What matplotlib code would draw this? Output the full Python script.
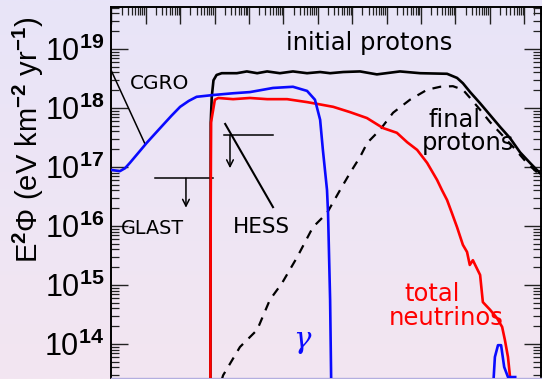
import numpy as np
import matplotlib
matplotlib.use("Agg")
import matplotlib.pyplot as plt
from matplotlib.ticker import LogLocator, FuncFormatter, NullFormatter
from matplotlib.colors import to_rgb

plt.rcParams['mathtext.fontset'] = 'custom'
plt.rcParams['mathtext.rm'] = 'Liberation Sans'
plt.rcParams['mathtext.bf'] = 'Liberation Sans:bold'
plt.rcParams['mathtext.it'] = 'Liberation Sans:italic'

# ---- data (log10 of energy in GeV, log10 of E^2 Phi) ----
gamma_logE = [-1.0, -0.75, -0.60, -0.46, -0.20, 0.03, 0.42, 0.75, 1.00, 1.25, 1.48, 1.96, 2.54, 3.03,
              3.70, 4.28, 4.69, 4.92, 5.07, 5.15, 5.27, 5.30, 5.36, 5.39, 5.40]
gamma_logF = [16.95, 16.93, 16.98, 17.07, 17.25, 17.41, 17.66, 17.87, 18.02, 18.12, 18.19, 18.22, 18.25, 18.27,
              18.34, 18.36, 18.29, 18.14, 17.80, 17.29, 16.61, 16.22, 14.75, 13.42, 13.0]
gamma_hi_logE = [10.07, 10.15, 10.24, 10.33, 10.42, 10.53, 10.74]
gamma_hi_logF = [13.0, 13.78, 13.98, 13.98, 13.61, 13.44, 13.44]

init_p_logE = [1.88, 1.89, 1.92, 1.97, 2.06, 2.21, 2.36, 2.65, 2.94, 3.24, 3.53, 3.90,
               4.28, 4.69, 5.07, 5.36, 5.74, 6.23, 6.72, 7.39, 7.98, 8.76, 9.05, 9.22,
               9.43, 9.72, 10.01, 10.30, 10.59, 10.88, 11.17, 11.52]
init_p_logF = [13.0, 17.75, 18.19, 18.47, 18.56, 18.59, 18.59, 18.59, 18.62, 18.59, 18.62, 18.59,
               18.62, 18.59, 18.61, 18.59, 18.61, 18.62, 18.57, 18.62, 18.59, 18.58, 18.51, 18.42,
               18.27, 18.08, 17.88, 17.68, 17.49, 17.25, 17.07, 16.86]

final_p_logE = [2.16, 2.25, 2.74, 3.24, 3.61, 3.96, 4.40, 4.86, 5.27, 5.65, 5.94, 6.23,
                6.44, 6.81, 7.19, 7.68, 8.18, 8.56, 8.93, 9.22, 9.43, 9.72, 10.01, 10.30,
                10.68, 11.08, 11.52]
final_p_logF = [13.3, 13.47, 13.95, 14.24, 14.75, 15.03, 15.47, 15.98, 16.22, 16.61, 16.90, 17.17,
                17.41, 17.63, 17.92, 18.14, 18.31, 18.36, 18.37, 18.31, 18.17, 17.97, 17.76, 17.58,
                17.34, 17.07, 16.83]

nu_logE = [1.88, 1.89, 1.90, 2.01, 2.11, 2.54, 3.03, 3.53, 4.11, 4.69, 4.98, 5.45, 5.94,
           6.43, 6.90, 7.30, 7.60, 7.89, 8.18, 8.47, 8.61, 8.76, 8.90, 9.05, 9.22, 9.34,
           9.42, 9.51, 9.72, 9.80, 10.01, 10.21, 10.36, 10.44, 10.53, 10.59, 10.62]
nu_logF = [13.0, 16.44, 17.76, 18.14, 18.17, 18.15, 18.17, 18.15, 18.15, 18.10, 18.07, 18.02, 17.93,
           17.83, 17.66, 17.58, 17.42, 17.29, 17.07, 16.78, 16.61, 16.44, 16.22, 15.98, 15.68, 15.56,
           15.34, 15.42, 15.17, 14.71, 14.58, 14.44, 14.29, 14.07, 13.78, 13.44, 13.0]

# instrument sensitivity limits
cgro_line_logE = [-0.99, -0.02]
cgro_line_logF = [18.62, 17.39]
glast_logE = [0.27, 1.96]
glast_logF = 16.81
glast_arrow_logE = 1.17
glast_arrow_logF = [16.81, 16.31]
hess_logE = [2.28, 3.69]
hess_logF = 17.54
hess_arrow_logE = 2.45
hess_arrow_logF = [17.54, 16.98]
hess_diag_logE = [2.31, 3.70]
hess_diag_logF = [17.73, 16.32]

ytick_exps = [14, 15, 16, 17, 18, 19]

def p(v):
    return 10.0 ** np.asarray(v, dtype=float)

W, H = 542, 379
fig = plt.figure(figsize=(W / 100, H / 100), dpi=100)

# gradient background
bg = fig.add_axes([0, 0, 1, 1], zorder=-5)
top = np.array(to_rgb('#E8E4F8'))
bot = np.array(to_rgb('#F3E6F1'))
t = np.linspace(0, 1, 256)[:, None]
grad = (top[None, :] * (1 - t) + bot[None, :] * t)[:, None, :]
bg.imshow(grad, aspect='auto', extent=[0, 1, 0, 1])
bg.axis('off')

ax = fig.add_axes([111.3 / W, 1 - 378 / H, (541 - 111.3) / W, (378 - 7) / H])
ax.patch.set_alpha(0)
ax.set_xscale('log')
ax.set_yscale('log')
ax.set_xlim(p(-1.0), p(11.49))
ax.set_ylim(p(13.424), p(19.712))

lw = 1.9
ax.plot(p(init_p_logE), p(init_p_logF), color='black', lw=lw, zorder=3)
ax.plot(p(final_p_logE), p(final_p_logF), color='black', lw=1.6, ls=(0, (4, 3.5)), zorder=3)
ax.plot(p(nu_logE), p(nu_logF), color='#ff0000', lw=lw, zorder=4)
ax.plot(p(gamma_logE), p(gamma_logF), color='#0a0aff', lw=lw, zorder=5)
ax.plot(p(gamma_hi_logE), p(gamma_hi_logF), color='#0a0aff', lw=lw, zorder=5)

alw = 1.1
ax.plot(p(cgro_line_logE), p(cgro_line_logF), color='black', lw=alw)
ax.plot(p(glast_logE), p([glast_logF, glast_logF]), color='black', lw=alw)
ax.annotate('', xy=(p(glast_arrow_logE), p(glast_arrow_logF[1])),
            xytext=(p(glast_arrow_logE), p(glast_arrow_logF[0])),
            arrowprops=dict(arrowstyle='->', color='black', lw=alw, shrinkA=0, shrinkB=0,
                            mutation_scale=12))
ax.plot(p(hess_logE), p([hess_logF, hess_logF]), color='black', lw=alw)
ax.annotate('', xy=(p(hess_arrow_logE), p(hess_arrow_logF[1])),
            xytext=(p(hess_arrow_logE), p(hess_arrow_logF[0])),
            arrowprops=dict(arrowstyle='->', color='black', lw=alw, shrinkA=0, shrinkB=0,
                            mutation_scale=12))
ax.plot(p(hess_diag_logE), p(hess_diag_logF), color='black', lw=1.5)

tf = 'DejaVu Sans'
ax.text(p(6.49), p(19.10), 'initial protons', fontsize=17.5, family=tf, ha='center', va='center')
ax.text(p(0.39), p(18.42), 'CGRO', fontsize=14.5, family=tf, ha='center', va='center')
ax.text(p(0.20), p(15.95), 'GLAST', fontsize=13.8, family=tf, ha='center', va='center')
ax.text(p(3.37), p(15.98), 'HESS', fontsize=15.5, family=tf, ha='center', va='center')
ax.text(p(8.99), p(17.79), 'final', fontsize=17.5, family=tf, ha='center', va='center')
ax.text(p(9.37), p(17.40), 'protons', fontsize=17.5, family=tf, ha='center', va='center')
ax.text(p(8.32), p(14.85), 'total', fontsize=17.5, family=tf, ha='center', va='center', color='#ff0000')
ax.text(p(8.73), p(14.44), 'neutrinos', fontsize=17.5, family=tf, ha='center', va='center', color='#ff0000')
ax.text(p(4.54), p(14.07), 'γ', fontsize=21, family='DejaVu Serif', style='italic',
        ha='center', va='center', color='#0a0aff')

# axes styling
ax.xaxis.set_major_locator(LogLocator(base=10, numticks=30))
ax.xaxis.set_minor_locator(LogLocator(base=10, subs=np.arange(2, 10), numticks=30))
ax.xaxis.set_major_formatter(NullFormatter())
ax.xaxis.set_minor_formatter(NullFormatter())
ax.yaxis.set_major_locator(LogLocator(base=10, numticks=30))
ax.yaxis.set_minor_locator(LogLocator(base=10, subs=np.arange(2, 10), numticks=30))
ax.set_yticks(p(ytick_exps))
ax.yaxis.set_major_formatter(FuncFormatter(lambda v, pos: r'10$^{\mathbf{%d}}$' % round(np.log10(v))))
ax.yaxis.set_minor_formatter(NullFormatter())
ax.tick_params(which='both', direction='in', top=True, right=True, bottom=False,
               labelbottom=False, color='#222222')
ax.tick_params(which='major', length=12.2, width=1.0)
ax.tick_params(which='minor', length=5.8, width=0.9)
ax.tick_params(axis='y', which='major', labelsize=22, pad=5)
for lab in ax.get_yticklabels():
    lab.set_family('Liberation Sans')
for s in ['left', 'top', 'right']:
    ax.spines[s].set_linewidth(1.4)
ax.spines['bottom'].set_color('#b4aee0')
ax.spines['bottom'].set_linewidth(1.0)

fig.text(28 / W, 1 - 140 / H, r'E$^{\mathbf{2}}$Φ (eV km$^{\mathbf{-2}}$ yr$^{\mathbf{-1}}$)',
         rotation=90, ha='center', va='center', fontsize=21, family='Liberation Sans')

fig.savefig('out.png', dpi=100)
